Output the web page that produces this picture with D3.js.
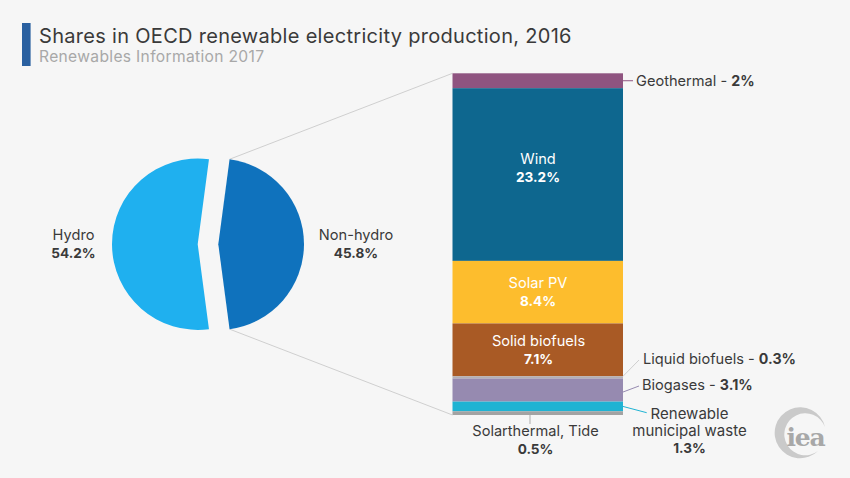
<!DOCTYPE html>
<html><head><meta charset="utf-8">
<script src="https://cdn.jsdelivr.net/npm/d3@7"></script>
<style>
html,body{margin:0;padding:0;background:#f6f6f6}
svg{display:block}
text{font-family:Inter,"Open Sans",sans-serif;fill:#3a3a3a}
.b{font-weight:700;font-size:13.6px}
</style></head><body>
<svg id="c" width="850" height="478"></svg>
<script>
const title="Shares in OECD renewable electricity production, 2016";
const subtitle="Renewables Information 2017";
const pieNames=["Non-hydro","Hydro"];
const pieValues=[45.8,54.2];
const pieColors=["#0f72bd","#1fb0ef"];
const stackNames=["Geothermal","Wind","Solar PV","Solid biofuels","Liquid biofuels","Biogases","Renewable municipal waste","Solarthermal, Tide"];
const stackValues=[2,23.2,8.4,7.1,0.3,3.1,1.3,0.5];
const stackLabels=["2%","23.2%","8.4%","7.1%","0.3%","3.1%","1.3%","0.5%"];
const stackColors=["#8f5480","#0e678f","#fdbd2d","#a95a25","#b3afb5","#968ab0","#1fb3d3","#a3a3a3"];

const svg=d3.select("#c");
svg.append("rect").attr("width",850).attr("height",478).attr("fill","#f6f6f6");
svg.append("rect").attr("x",22).attr("y",23).attr("width",8.6).attr("height",43).attr("fill","#2a60a0");
svg.append("text").attr("x",39).attr("y",42.5).attr("font-size",20).attr("letter-spacing",0.3).text(title);
svg.append("text").attr("x",39).attr("y",61.5).attr("font-size",15.6).attr("letter-spacing",0.33).style("fill","#a8a8a8").text(subtitle);

// stack
const total=d3.sum(stackValues);
const y=d3.scaleLinear().domain([0,total]).range([73.3,415]);
const x0=452.5,x1=623;
// pie
const pie=d3.pie().sort(null).startAngle(Math.PI/2-Math.PI*pieValues[0]/100).endAngle(Math.PI/2-Math.PI*pieValues[0]/100+2*Math.PI);
const arcs=pie(pieValues);
const arc=d3.arc().innerRadius(0).outerRadius(85.7);
const cx=208,cy=244.2,off=10.3;

// connectors
const conn=svg.append("g").attr("stroke","#cfcfcf").attr("fill","none").attr("stroke-width",1);
const tipX=cx+off+85.7*Math.sin(arcs[0].startAngle),tipD=85.7*Math.cos(arcs[0].startAngle);
conn.append("line").attr("x1",tipX).attr("y1",cy-tipD).attr("x2",x0).attr("y2",y(0));
conn.append("line").attr("x1",tipX).attr("y1",cy+tipD).attr("x2",x0).attr("y2",y(total));

svg.append("g").selectAll("path").data(arcs).join("path")
 .attr("d",arc).attr("fill",(d,i)=>pieColors[i])
 .attr("transform",(d,i)=>`translate(${cx+(i==0?off:-off)},${cy})`);

let acc=0;
const starts=stackValues.map(v=>{const s=acc;acc+=v;return s;});
svg.append("g").selectAll("rect").data(stackValues).join("rect")
 .attr("x",x0).attr("width",x1-x0)
 .attr("y",(d,i)=>y(starts[i])).attr("height",d=>y(d)-y(0))
 .attr("fill",(d,i)=>stackColors[i]);

const fs=14.6;
function label2(x,yy,name,val,fill){
  const t=svg.append("text").attr("text-anchor","middle").attr("font-size",fs);
  t.append("tspan").attr("x",x).attr("y",yy).style("fill",fill||"#3a3a3a").text(name);
  t.append("tspan").attr("x",x).attr("y",yy+18).attr("class","b").style("fill",fill||"#3a3a3a").text(val);
}
function inline(x,yy,name,val){
  const t=svg.append("text").attr("x",x).attr("y",yy).attr("font-size",fs);
  t.append("tspan").text(name+" - ");
  t.append("tspan").attr("class","b").style("font-size","14.2px").text(val);
}
const mid=i=>y(starts[i]+stackValues[i]/2);
label2(73.5,240,pieNames[1],pieValues[1]+"%");
label2(356,240,pieNames[0],pieValues[0]+"%");
label2(538,163.5,stackNames[1],stackLabels[1],"#fff");
label2(538,288,stackNames[2],stackLabels[2],"#fff");
label2(538.5,345.5,stackNames[3],stackLabels[3],"#fff");

inline(636,86,stackNames[0],stackLabels[0]);
inline(643,363.5,stackNames[4],stackLabels[4]);
inline(642,390,stackNames[5],stackLabels[5]);
const t=svg.append("text").attr("text-anchor","middle").attr("font-size",fs+0.4);
t.append("tspan").attr("x",689.5).attr("y",418.5).text("Renewable");
t.append("tspan").attr("x",689.5).attr("y",436).text("municipal waste");
t.append("tspan").attr("x",689.5).attr("y",453).attr("class","b").text(stackLabels[6]);
label2(535.5,435.5,stackNames[7],stackLabels[7]);

// leader lines
const lead=(a,b,c,d,col,w)=>svg.append("line").attr("x1",a).attr("y1",b).attr("x2",c).attr("y2",d).attr("stroke",col).attr("stroke-width",w||1);
lead(x1,mid(0),633,mid(0),stackColors[0]);
lead(x1,y(starts[4]),639,360,"#cfcfcf");
lead(x1,y(starts[5])+13.5,639,386,stackColors[5]);
lead(x1,mid(6),646.7,412.7,stackColors[6]);
lead(530,y(total),530,424,"#c9c9c9",1.6);

// logo
const lg=svg.append("g");
lg.append("path").attr("fill","#cacaca").attr("d","M825,427 A25.5,25.5 0 1 0 818,451 A21,21 0 1 1 825,427 Z");
lg.append("text").attr("x",805.5).attr("y",445.5).attr("text-anchor","middle").attr("font-size",25).attr("font-weight",700)
  .style("font-family","'DejaVu Serif',serif").style("fill","#a8a8a8").attr("letter-spacing",-1.2).text("iea");
</script>
</body></html>
